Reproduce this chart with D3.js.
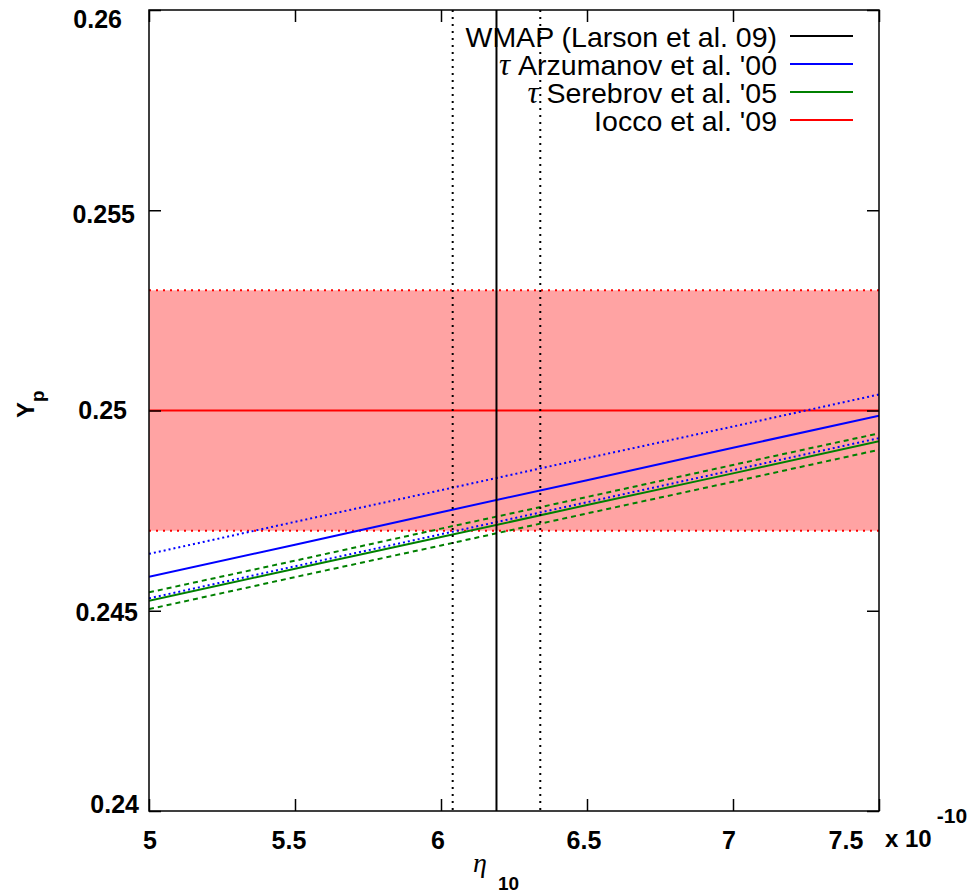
<!DOCTYPE html>
<html>
<head>
<meta charset="utf-8">
<script src="https://cdn.jsdelivr.net/npm/d3@7"></script>
<style>
  html, body { margin: 0; padding: 0; background: #fff; }
  svg { display: block; }
</style>
</head>
<body>
<script>
// Helium-4 abundance Y_p versus baryon-to-photon ratio eta_10
const etaDomain = [5, 7.5];
const ypDomain = [0.24, 0.26];
const xTicks = [5, 5.5, 6, 6.5, 7, 7.5];
const yTicks = [0.24, 0.245, 0.25, 0.255, 0.26];

// eta_10 sample points for the BBN curves
const etaGrid = [5, 5.5, 6, 6.5, 7, 7.5];
// neutron lifetime from Arzumanov et al. '00 (central, upper, lower)
const ypArzumanov = [0.24585, 0.24665, 0.24746, 0.24826, 0.24907, 0.24987];
const ypArzumanovHi = [0.24642, 0.24722, 0.24801, 0.24881, 0.24960, 0.25040];
const ypArzumanovLo = [0.24531, 0.24611, 0.24691, 0.24771, 0.24851, 0.24931];
// neutron lifetime from Serebrov et al. '05 (central, upper, lower)
const ypSerebrov = [0.24525, 0.24605, 0.24684, 0.24764, 0.24843, 0.24923];
const ypSerebrovHi = [0.24546, 0.24625, 0.24705, 0.24784, 0.24864, 0.24943];
const ypSerebrovLo = [0.24504, 0.24584, 0.24663, 0.24743, 0.24822, 0.24902];

// WMAP eta_10: central, lower, upper
const wmapEta = [6.19, 6.04, 6.34];
// Iocco et al. '09 Y_p: central, lower, upper
const ioccoYp = [0.250, 0.247, 0.253];

const legendLabels = [
  { greek: "", text: "WMAP (Larson et al. 09)", color: "#000000" },
  { greek: "\u03C4", text: " Arzumanov et al. '00", color: "#0000ff" },
  { greek: "\u03C4", text: " Serebrov et al. '05", color: "#008000" },
  { greek: "", text: "Iocco et al. '09", color: "#ff0000" }
];

const W = 973, H = 895;
const plot = { left: 149, right: 879, top: 10, bottom: 811 };
const sans = "'Liberation Sans', Arial, sans-serif";
const serif = "'Liberation Serif', 'Times New Roman', serif";

const svg = d3.select("body").append("svg")
  .attr("width", W).attr("height", H);

const x = d3.scaleLinear().domain(etaDomain).range([plot.left, plot.right]);
const y = d3.scaleLinear().domain(ypDomain).range([plot.bottom, plot.top]);

svg.append("defs").append("clipPath").attr("id", "plotclip")
  .append("rect")
  .attr("x", plot.left).attr("y", plot.top)
  .attr("width", plot.right - plot.left).attr("height", plot.bottom - plot.top);

const g = svg.append("g").attr("clip-path", "url(#plotclip)");

// Iocco et al. band
g.append("rect")
  .attr("x", x(etaDomain[0])).attr("width", x(etaDomain[1]) - x(etaDomain[0]))
  .attr("y", y(ioccoYp[2])).attr("height", y(ioccoYp[1]) - y(ioccoYp[2]))
  .attr("fill", "#ffa3a3");

[ioccoYp[1], ioccoYp[2]].forEach(v => {
  g.append("line")
    .attr("x1", x(etaDomain[0])).attr("x2", x(etaDomain[1]))
    .attr("y1", y(v)).attr("y2", y(v))
    .attr("stroke", "#ff0000").attr("stroke-width", 2)
    .attr("stroke-dasharray", "2,5");
});

g.append("line")
  .attr("x1", x(etaDomain[0])).attr("x2", x(etaDomain[1]))
  .attr("y1", y(ioccoYp[0])).attr("y2", y(ioccoYp[0]))
  .attr("stroke", "#ff0000").attr("stroke-width", 2);

const line = d3.line().x((d, i) => x(etaGrid[i])).y(d => y(d));

const curves = [
  { v: ypArzumanovHi, color: "#0000ff", dash: "2,3" },
  { v: ypArzumanovLo, color: "#0000ff", dash: "2,3" },
  { v: ypSerebrovHi, color: "#008000", dash: "5,4" },
  { v: ypSerebrovLo, color: "#008000", dash: "5,4" },
  { v: ypArzumanov, color: "#0000ff", dash: null },
  { v: ypSerebrov, color: "#008000", dash: null }
];
curves.forEach(c => {
  g.append("path")
    .attr("d", line(c.v))
    .attr("fill", "none")
    .attr("stroke", c.color)
    .attr("stroke-width", 2)
    .attr("stroke-dasharray", c.dash);
});

// WMAP constraint on eta
g.append("line")
  .attr("x1", x(wmapEta[0])).attr("x2", x(wmapEta[0]))
  .attr("y1", plot.top).attr("y2", plot.bottom)
  .attr("stroke", "#000").attr("stroke-width", 2);
[wmapEta[1], wmapEta[2]].forEach(v => {
  g.append("line")
    .attr("x1", x(v)).attr("x2", x(v))
    .attr("y1", plot.top).attr("y2", plot.bottom)
    .attr("stroke", "#000").attr("stroke-width", 2)
    .attr("stroke-dasharray", "2,5");
});

// frame
svg.append("rect")
  .attr("x", plot.left).attr("y", plot.top)
  .attr("width", plot.right - plot.left).attr("height", plot.bottom - plot.top)
  .attr("fill", "none").attr("stroke", "#000").attr("stroke-width", 1.5);

// inward ticks on all four sides
const tickLen = 12;
const xAxisB = d3.axisBottom(x).tickValues(xTicks).tickSizeInner(-tickLen).tickSizeOuter(0).tickFormat("");
const xAxisT = d3.axisTop(x).tickValues(xTicks).tickSizeInner(-tickLen).tickSizeOuter(0).tickFormat("");
const yAxisL = d3.axisLeft(y).tickValues(yTicks).tickSizeInner(-tickLen).tickSizeOuter(0).tickFormat("");
const yAxisR = d3.axisRight(y).tickValues(yTicks).tickSizeInner(-tickLen).tickSizeOuter(0).tickFormat("");
[
  [xAxisB, `translate(0,${plot.bottom})`],
  [xAxisT, `translate(0,${plot.top})`],
  [yAxisL, `translate(${plot.left},0)`],
  [yAxisR, `translate(${plot.right},0)`]
].forEach(([ax, tr]) => {
  const a = svg.append("g").attr("transform", tr).call(ax);
  a.select(".domain").remove();
  a.selectAll(".tick line").attr("stroke", "#000").attr("stroke-width", 1.5);
});

// tick labels (end labels pulled inward so they stay clear of the corners)
const xLabelShift = [1, -6, -3, -3, -4, -33];
const xLab = svg.append("g")
  .attr("font-family", sans).attr("font-weight", "bold").attr("font-size", 25);
xTicks.forEach((t, i) => {
  xLab.append("text")
    .attr("x", x(t) + xLabelShift[i])
    .attr("y", 849)
    .attr("text-anchor", "middle")
    .text(d3.format("")(t));
});

const yLabelRight = [139, 138, 127, 135, 122];
const yLabelShift = [2, 10, 8, 13, 18];
const yLab = svg.append("g")
  .attr("font-family", sans).attr("font-weight", "bold").attr("font-size", 25);
yTicks.forEach((t, i) => {
  yLab.append("text")
    .attr("x", yLabelRight[i])
    .attr("y", y(t) + yLabelShift[i])
    .attr("text-anchor", "end")
    .text(d3.format("")(t));
});

// axis titles
const xt = svg.append("text").attr("x", 473).attr("y", 872);
xt.append("tspan").attr("font-family", serif).attr("font-style", "italic")
  .attr("font-size", 28).text("\u03B7");
xt.append("tspan").attr("font-family", sans).attr("font-weight", "bold")
  .attr("font-size", 19).attr("dx", 11).attr("dy", 18).text("10");

const mult = svg.append("text").attr("x", 885).attr("y", 847)
  .attr("font-family", sans).attr("font-weight", "bold");
mult.append("tspan").attr("font-size", 24).text("x 10");
mult.append("tspan").attr("font-size", 21).attr("dx", 5).attr("dy", -24).text("-10");

const yt = svg.append("text")
  .attr("transform", "translate(34,418) rotate(-90)")
  .attr("font-family", sans).attr("font-weight", "bold");
yt.append("tspan").attr("font-size", 24).text("Y");
yt.append("tspan").attr("font-size", 19).attr("dy", 10).text("p");

// legend
const leg = svg.append("g");
legendLabels.forEach((d, i) => {
  const cy = 36 + i * 28;
  const t = leg.append("text")
    .attr("x", 777).attr("y", cy + 11)
    .attr("text-anchor", "end")
    .attr("font-family", sans).attr("font-size", 28.5);
  if (d.greek) {
    t.append("tspan").attr("font-family", serif).attr("font-style", "italic")
      .attr("font-size", 31).text(d.greek);
  }
  t.append("tspan").text(d.text);
  leg.append("line")
    .attr("x1", 790).attr("x2", 853)
    .attr("y1", cy).attr("y2", cy)
    .attr("stroke", d.color).attr("stroke-width", 2);
});
</script>
</body>
</html>
